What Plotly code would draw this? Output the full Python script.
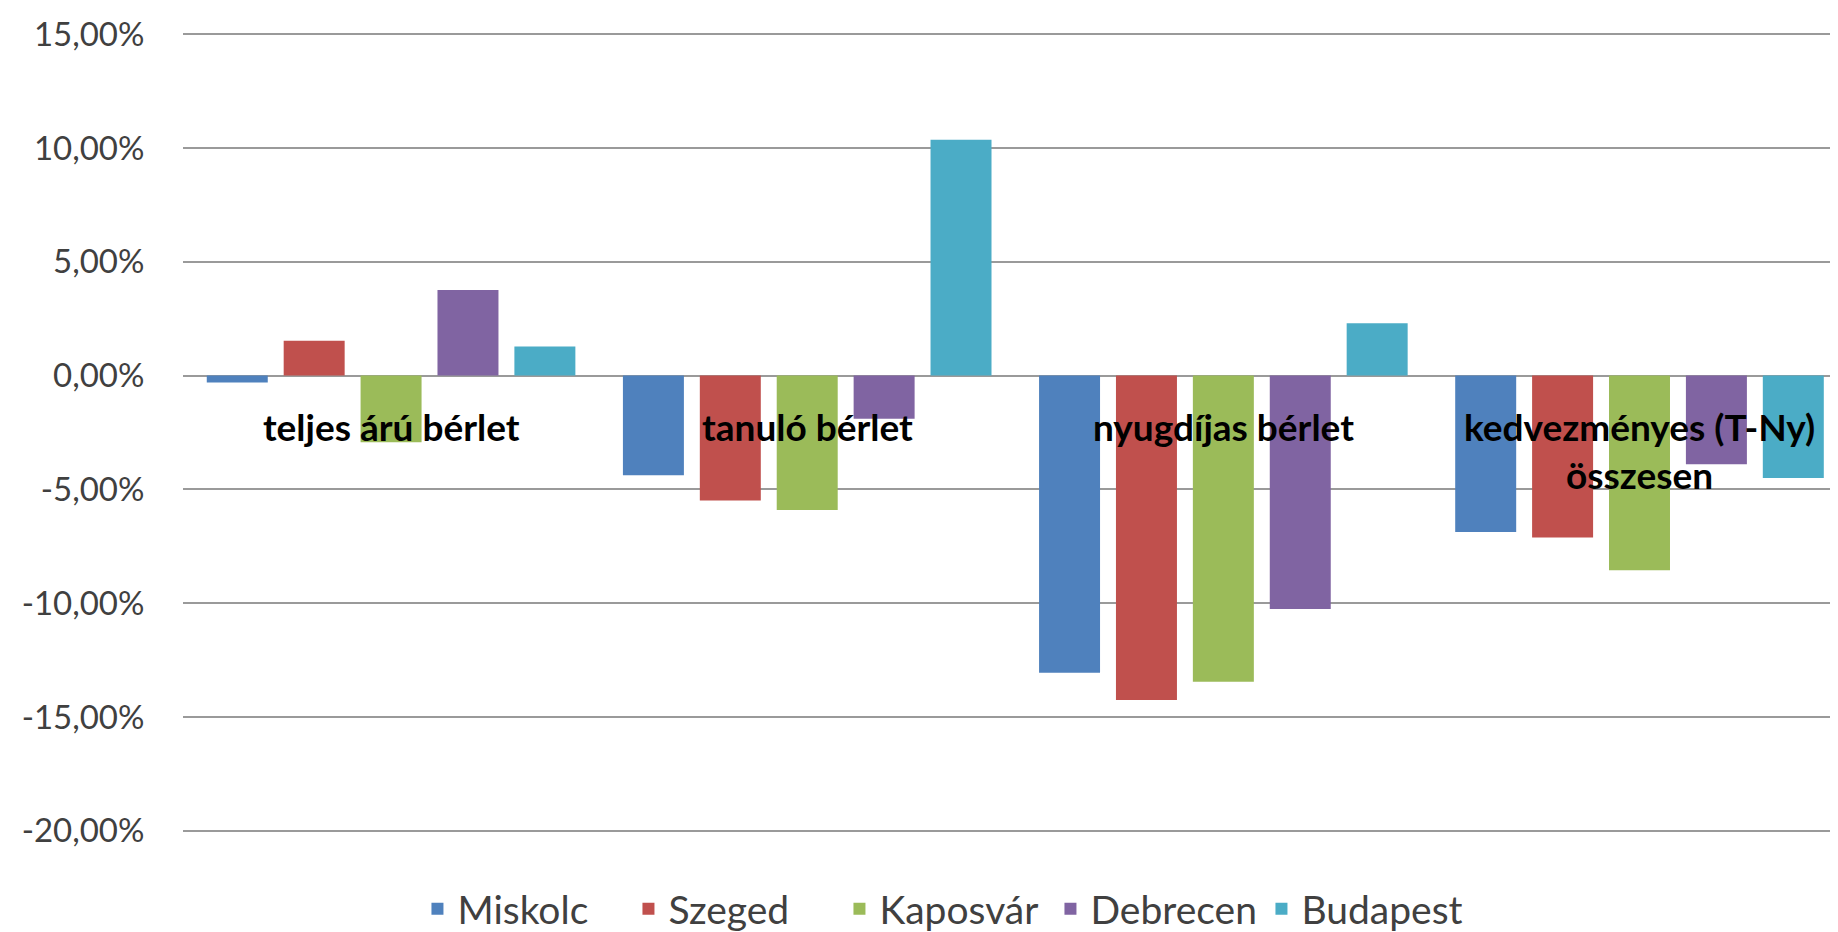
import plotly.graph_objects as go

categories = ["teljes árú bérlet", "tanuló bérlet", "nyugdíjas bérlet", "kedvezményes (T-Ny) összesen"]
category_labels = ["teljes árú bérlet", "tanuló bérlet", "nyugdíjas bérlet", "kedvezményes (T-Ny)<br>összesen"]

miskolc = [-0.30, -4.38, -13.05, -6.87]
szeged = [1.53, -5.49, -14.25, -7.11]
kaposvar = [-2.93, -5.90, -13.45, -8.55]
debrecen = [3.76, -1.90, -10.25, -3.89]
budapest = [1.28, 10.36, 2.30, -4.50]

series_names = ["Miskolc", "Szeged", "Kaposvár", "Debrecen", "Budapest"]
series_values = [miskolc, szeged, kaposvar, debrecen, budapest]
colors = ["#4F81BD", "#C0504D", "#9BBB59", "#8064A2", "#4BACC6"]

tick_vals = [15, 10, 5, 0, -5, -10, -15, -20]
tick_labels = ["15,00%", "10,00%", "5,00%", "0,00%", "-5,00%", "-10,00%", "-15,00%", "-20,00%"]

FONT = "Lato, 'Open Sans', sans-serif"

fig = go.Figure()
for name, vals, col in zip(series_names, series_values, colors):
    fig.add_trace(go.Bar(x=categories, y=vals, name=name, marker=dict(color=col, line=dict(width=0))))

for cat, lab in zip(categories, category_labels):
    fig.add_annotation(x=cat, y=-1.15, xref="x", yref="y", text="<b>" + lab + "</b>",
                       showarrow=False, yanchor="top", xanchor="center",
                       font=dict(family=FONT, size=37, color="#000000"))

fig.update_layout(
    width=1830, height=924,
    margin=dict(l=175, r=0, t=25, b=100, autoexpand=False),
    paper_bgcolor="white", plot_bgcolor="white",
    barmode="group", bargap=0.076, bargroupgap=0.207,
    font=dict(family=FONT, size=33, color="#404040"),
    showlegend=True,
    legend=dict(orientation="h", xref="container", x=0.512, xanchor="center",
                yref="container", y=0.025, yanchor="middle",
                font=dict(family=FONT, size=39, color="#404040"), itemwidth=30,
                entrywidth=166, entrywidthmode="pixels",
                traceorder="normal"),
    xaxis=dict(range=[-0.5, 3.477], showticklabels=False, showgrid=False, zeroline=False,
               showline=False, ticks=""),
    yaxis=dict(range=[-20.05, 15.05], tickvals=tick_vals, ticktext=tick_labels,
               showgrid=True, gridcolor="#9A9A9A", gridwidth=2,
               zeroline=True, zerolinecolor="#9A9A9A", zerolinewidth=2,
               showline=False, ticks="outside", ticklen=31, tickcolor="rgba(0,0,0,0)",
               tickfont=dict(family=FONT, size=33, color="#404040")),
)

fig.write_html("out.html")
